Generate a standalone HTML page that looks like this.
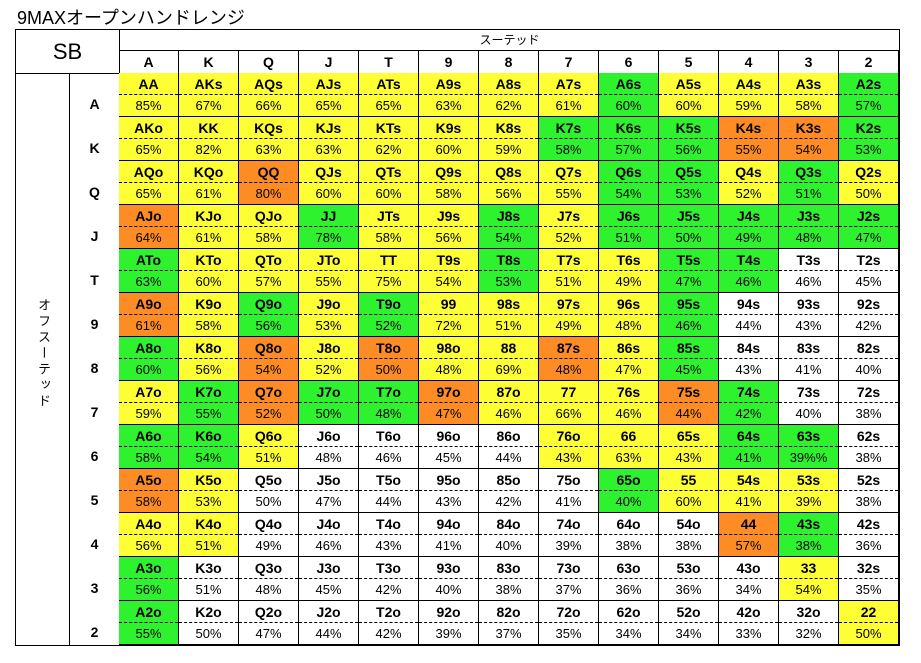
<!DOCTYPE html>
<html><head><meta charset="utf-8"><style>
body{margin:0;width:921px;height:663px;background:#fff;position:relative;font-family:"Liberation Sans","Noto Sans CJK JP",sans-serif;color:#000;overflow:hidden}
.t{position:absolute;left:17px;top:4px;font-size:18px}
.box{position:absolute;border:1px solid #000;box-sizing:border-box}
.g{position:absolute;left:119px;top:73px;display:grid;grid-template-columns:repeat(13,60px);grid-auto-rows:44px}
.g div{box-sizing:border-box;border-right:1px solid #000;border-bottom:1px solid #000;text-align:center}
.g b{display:block;height:22px;line-height:23px;font-size:14px;border-bottom:1px dashed #000;box-sizing:border-box}
.g i{display:block;font-style:normal;font-size:13px;line-height:21px}
.y{background:#fefe35}.e{background:#2ef22e}.o{background:#fd8c25}
.h{position:absolute;top:50px;height:23px;width:60px;box-sizing:border-box;border-right:1px solid #000;text-align:center;font-weight:bold;font-size:14px;line-height:24px}
.r{position:absolute;left:70px;width:49px;text-align:center;font-weight:bold;font-size:14px}
</style></head><body>
<div class="t">9MAXオープンハンドレンジ</div>
<div class="box" style="left:15px;top:29px;width:885px;height:617px"></div>
<div class="box" style="left:15px;top:29px;width:105px;height:45px;font-size:22px;text-align:center;line-height:44px">SB</div>
<div class="box" style="left:119px;top:29px;width:781px;height:22px;font-size:12px;text-align:center;line-height:21px">スーテッド</div>
<div class="box" style="left:69px;top:73px;width:51px;height:573px"></div>
<div style="position:absolute;left:34px;top:298px;writing-mode:vertical-rl;font-size:13px;letter-spacing:3px">オフスーテッド</div>
<div class="h" style="left:119px">A</div><div class="h" style="left:179px">K</div><div class="h" style="left:239px">Q</div><div class="h" style="left:299px">J</div><div class="h" style="left:359px">T</div><div class="h" style="left:419px">9</div><div class="h" style="left:479px">8</div><div class="h" style="left:539px">7</div><div class="h" style="left:599px">6</div><div class="h" style="left:659px">5</div><div class="h" style="left:719px">4</div><div class="h" style="left:779px">3</div><div class="h" style="left:839px">2</div>
<div class="r" style="top:96px">A</div><div class="r" style="top:140px">K</div><div class="r" style="top:184px">Q</div><div class="r" style="top:228px">J</div><div class="r" style="top:272px">T</div><div class="r" style="top:316px">9</div><div class="r" style="top:360px">8</div><div class="r" style="top:404px">7</div><div class="r" style="top:448px">6</div><div class="r" style="top:492px">5</div><div class="r" style="top:536px">4</div><div class="r" style="top:580px">3</div><div class="r" style="top:624px">2</div>
<div class="g">
<div class="y"><b>AA</b><i>85%</i></div><div class="y"><b>AKs</b><i>67%</i></div><div class="y"><b>AQs</b><i>66%</i></div><div class="y"><b>AJs</b><i>65%</i></div><div class="y"><b>ATs</b><i>65%</i></div><div class="y"><b>A9s</b><i>63%</i></div><div class="y"><b>A8s</b><i>62%</i></div><div class="y"><b>A7s</b><i>61%</i></div><div class="e"><b>A6s</b><i>60%</i></div><div class="y"><b>A5s</b><i>60%</i></div><div class="y"><b>A4s</b><i>59%</i></div><div class="y"><b>A3s</b><i>58%</i></div><div class="e"><b>A2s</b><i>57%</i></div>
<div class="y"><b>AKo</b><i>65%</i></div><div class="y"><b>KK</b><i>82%</i></div><div class="y"><b>KQs</b><i>63%</i></div><div class="y"><b>KJs</b><i>63%</i></div><div class="y"><b>KTs</b><i>62%</i></div><div class="y"><b>K9s</b><i>60%</i></div><div class="y"><b>K8s</b><i>59%</i></div><div class="e"><b>K7s</b><i>58%</i></div><div class="e"><b>K6s</b><i>57%</i></div><div class="e"><b>K5s</b><i>56%</i></div><div class="o"><b>K4s</b><i>55%</i></div><div class="o"><b>K3s</b><i>54%</i></div><div class="e"><b>K2s</b><i>53%</i></div>
<div class="y"><b>AQo</b><i>65%</i></div><div class="y"><b>KQo</b><i>61%</i></div><div class="o"><b>QQ</b><i>80%</i></div><div class="y"><b>QJs</b><i>60%</i></div><div class="y"><b>QTs</b><i>60%</i></div><div class="y"><b>Q9s</b><i>58%</i></div><div class="y"><b>Q8s</b><i>56%</i></div><div class="y"><b>Q7s</b><i>55%</i></div><div class="e"><b>Q6s</b><i>54%</i></div><div class="e"><b>Q5s</b><i>53%</i></div><div class="y"><b>Q4s</b><i>52%</i></div><div class="e"><b>Q3s</b><i>51%</i></div><div class="y"><b>Q2s</b><i>50%</i></div>
<div class="o"><b>AJo</b><i>64%</i></div><div class="y"><b>KJo</b><i>61%</i></div><div class="y"><b>QJo</b><i>58%</i></div><div class="e"><b>JJ</b><i>78%</i></div><div class="y"><b>JTs</b><i>58%</i></div><div class="y"><b>J9s</b><i>56%</i></div><div class="e"><b>J8s</b><i>54%</i></div><div class="y"><b>J7s</b><i>52%</i></div><div class="e"><b>J6s</b><i>51%</i></div><div class="e"><b>J5s</b><i>50%</i></div><div class="e"><b>J4s</b><i>49%</i></div><div class="e"><b>J3s</b><i>48%</i></div><div class="e"><b>J2s</b><i>47%</i></div>
<div class="e"><b>ATo</b><i>63%</i></div><div class="y"><b>KTo</b><i>60%</i></div><div class="y"><b>QTo</b><i>57%</i></div><div class="y"><b>JTo</b><i>55%</i></div><div class="y"><b>TT</b><i>75%</i></div><div class="y"><b>T9s</b><i>54%</i></div><div class="e"><b>T8s</b><i>53%</i></div><div class="y"><b>T7s</b><i>51%</i></div><div class="y"><b>T6s</b><i>49%</i></div><div class="e"><b>T5s</b><i>47%</i></div><div class="e"><b>T4s</b><i>46%</i></div><div><b>T3s</b><i>46%</i></div><div><b>T2s</b><i>45%</i></div>
<div class="o"><b>A9o</b><i>61%</i></div><div class="y"><b>K9o</b><i>58%</i></div><div class="e"><b>Q9o</b><i>56%</i></div><div class="y"><b>J9o</b><i>53%</i></div><div class="e"><b>T9o</b><i>52%</i></div><div class="y"><b>99</b><i>72%</i></div><div class="y"><b>98s</b><i>51%</i></div><div class="y"><b>97s</b><i>49%</i></div><div class="y"><b>96s</b><i>48%</i></div><div class="e"><b>95s</b><i>46%</i></div><div><b>94s</b><i>44%</i></div><div><b>93s</b><i>43%</i></div><div><b>92s</b><i>42%</i></div>
<div class="e"><b>A8o</b><i>60%</i></div><div class="y"><b>K8o</b><i>56%</i></div><div class="o"><b>Q8o</b><i>54%</i></div><div class="y"><b>J8o</b><i>52%</i></div><div class="o"><b>T8o</b><i>50%</i></div><div class="y"><b>98o</b><i>48%</i></div><div class="y"><b>88</b><i>69%</i></div><div class="o"><b>87s</b><i>48%</i></div><div class="y"><b>86s</b><i>47%</i></div><div class="e"><b>85s</b><i>45%</i></div><div><b>84s</b><i>43%</i></div><div><b>83s</b><i>41%</i></div><div><b>82s</b><i>40%</i></div>
<div class="y"><b>A7o</b><i>59%</i></div><div class="e"><b>K7o</b><i>55%</i></div><div class="o"><b>Q7o</b><i>52%</i></div><div class="e"><b>J7o</b><i>50%</i></div><div class="e"><b>T7o</b><i>48%</i></div><div class="o"><b>97o</b><i>47%</i></div><div class="y"><b>87o</b><i>46%</i></div><div class="y"><b>77</b><i>66%</i></div><div class="y"><b>76s</b><i>46%</i></div><div class="o"><b>75s</b><i>44%</i></div><div class="e"><b>74s</b><i>42%</i></div><div><b>73s</b><i>40%</i></div><div><b>72s</b><i>38%</i></div>
<div class="e"><b>A6o</b><i>58%</i></div><div class="e"><b>K6o</b><i>54%</i></div><div class="y"><b>Q6o</b><i>51%</i></div><div><b>J6o</b><i>48%</i></div><div><b>T6o</b><i>46%</i></div><div><b>96o</b><i>45%</i></div><div><b>86o</b><i>44%</i></div><div class="y"><b>76o</b><i>43%</i></div><div class="y"><b>66</b><i>63%</i></div><div class="y"><b>65s</b><i>43%</i></div><div class="e"><b>64s</b><i>41%</i></div><div class="e"><b>63s</b><i>39%%</i></div><div><b>62s</b><i>38%</i></div>
<div class="o"><b>A5o</b><i>58%</i></div><div class="y"><b>K5o</b><i>53%</i></div><div><b>Q5o</b><i>50%</i></div><div><b>J5o</b><i>47%</i></div><div><b>T5o</b><i>44%</i></div><div><b>95o</b><i>43%</i></div><div><b>85o</b><i>42%</i></div><div><b>75o</b><i>41%</i></div><div class="e"><b>65o</b><i>40%</i></div><div class="y"><b>55</b><i>60%</i></div><div class="y"><b>54s</b><i>41%</i></div><div class="y"><b>53s</b><i>39%</i></div><div><b>52s</b><i>38%</i></div>
<div class="y"><b>A4o</b><i>56%</i></div><div class="y"><b>K4o</b><i>51%</i></div><div><b>Q4o</b><i>49%</i></div><div><b>J4o</b><i>46%</i></div><div><b>T4o</b><i>43%</i></div><div><b>94o</b><i>41%</i></div><div><b>84o</b><i>40%</i></div><div><b>74o</b><i>39%</i></div><div><b>64o</b><i>38%</i></div><div><b>54o</b><i>38%</i></div><div class="o"><b>44</b><i>57%</i></div><div class="e"><b>43s</b><i>38%</i></div><div><b>42s</b><i>36%</i></div>
<div class="e"><b>A3o</b><i>56%</i></div><div><b>K3o</b><i>51%</i></div><div><b>Q3o</b><i>48%</i></div><div><b>J3o</b><i>45%</i></div><div><b>T3o</b><i>42%</i></div><div><b>93o</b><i>40%</i></div><div><b>83o</b><i>38%</i></div><div><b>73o</b><i>37%</i></div><div><b>63o</b><i>36%</i></div><div><b>53o</b><i>36%</i></div><div><b>43o</b><i>34%</i></div><div class="y"><b>33</b><i>54%</i></div><div><b>32s</b><i>35%</i></div>
<div class="e"><b>A2o</b><i>55%</i></div><div><b>K2o</b><i>50%</i></div><div><b>Q2o</b><i>47%</i></div><div><b>J2o</b><i>44%</i></div><div><b>T2o</b><i>42%</i></div><div><b>92o</b><i>39%</i></div><div><b>82o</b><i>37%</i></div><div><b>72o</b><i>35%</i></div><div><b>62o</b><i>34%</i></div><div><b>52o</b><i>34%</i></div><div><b>42o</b><i>33%</i></div><div><b>32o</b><i>32%</i></div><div class="y"><b>22</b><i>50%</i></div>
</div>
</body></html>
